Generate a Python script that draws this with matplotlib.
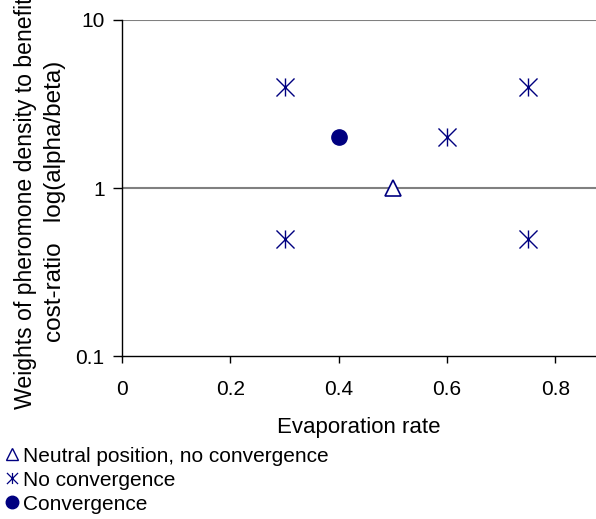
import numpy as np
import matplotlib
matplotlib.use("Agg")
import matplotlib.pyplot as plt
from matplotlib.path import Path
from matplotlib.lines import Line2D

plt.rcParams['font.family'] = ['Liberation Sans', 'DejaVu Sans']

# data
nocon_x = [0.3, 0.75, 0.6, 0.3, 0.75]
nocon_y = [4, 4, 2, 0.5, 0.5]
conv_x = [0.4]
conv_y = [2]
neutral_x = [0.5]
neutral_y = [1]
xticks = [0, 0.2, 0.4, 0.6, 0.8]
xlabels = ['0', '0.2', '0.4', '0.6', '0.8']
yticks = [0.1, 1, 10]
ylabels = ['0.1', '1', '10']

navy = '#000080'

# asterisk: X plus vertical bar
star = Path([(-1, -1), (1, 1), (-1, 1), (1, -1), (0, -1), (0, 1)],
            [Path.MOVETO, Path.LINETO, Path.MOVETO, Path.LINETO, Path.MOVETO, Path.LINETO])

fig = plt.figure(figsize=(5.96, 5.19), dpi=100)
ax = fig.add_axes([0.2047, 0.314, 0.7953, 0.6475])

ax.set_yscale('log')
ax.set_xlim(0, 0.875)
ax.set_ylim(0.1, 10)

for y in [1, 10]:
    ax.axhline(y, color='#808080', lw=1.5, zorder=1)

ax.plot(nocon_x, nocon_y, ls='none', marker=star, ms=13, mew=1.0, color=navy, zorder=3)
ax.plot(conv_x, conv_y, ls='none', marker='o', ms=11, color=navy, zorder=3)
ax.plot(neutral_x, neutral_y, ls='none', marker='^', ms=11, mfc='white', mec=navy, mew=1.2, zorder=3)

ax.set_xticks(xticks, labels=xlabels)
ax.set_yticks(yticks, labels=ylabels)
ax.yaxis.set_minor_locator(matplotlib.ticker.NullLocator())
ax.tick_params(axis='both', labelsize=15, direction='out', width=1, color='black')
ax.tick_params(axis='x', pad=12, length=5)
ax.tick_params(axis='y', pad=6, length=6.5)

ax.spines['top'].set_visible(False)
ax.spines['right'].set_visible(False)
ax.spines['left'].set_linewidth(1)
ax.spines['bottom'].set_linewidth(1)

ax.set_xlabel('Evaporation rate', fontsize=16, labelpad=13)

fig.text(0.042, (519 - 409) / 519, 'Weights of pheromone density to benefit',
         rotation=90, ha='center', va='bottom', fontsize=16.6)
fig.text(0.093, (519 - 342) / 519, 'cost-ratio   log(alpha/beta)',
         rotation=90, ha='center', va='bottom', fontsize=17.5)

handles = [
    Line2D([], [], ls='none', marker='^', ms=9, mfc='white', mec=navy, mew=1),
    Line2D([], [], ls='none', marker=star, ms=8, mew=0.9, color=navy),
    Line2D([], [], ls='none', marker='o', ms=9, color=navy),
]
labels = ['Neutral position, no convergence', 'No convergence', 'Convergence']
fig.legend(handles, labels, loc='lower left', bbox_to_anchor=(-0.008, -0.006),
           frameon=False, fontsize=15, handlelength=0.8, handletextpad=0.15,
           labelspacing=0.24, borderaxespad=0.0)

fig.savefig('out.png', dpi=100)
